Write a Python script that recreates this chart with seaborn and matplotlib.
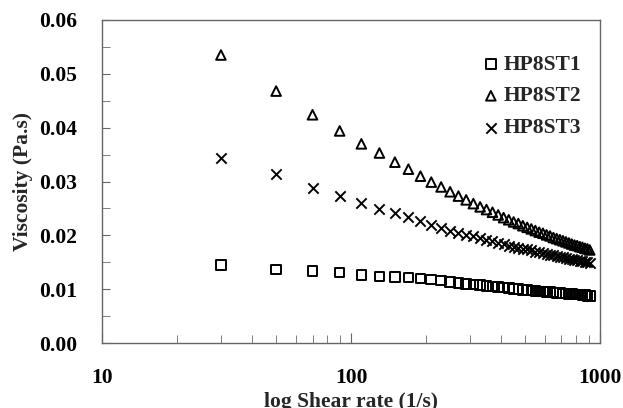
import numpy as np
import pandas as pd
import matplotlib
matplotlib.use("Agg")
import matplotlib.pyplot as plt
from matplotlib.ticker import LogLocator, MultipleLocator, NullFormatter
import seaborn as sns

# shear rate points (1/s)
shear_rate = [30, 50, 70, 90, 110, 130, 150, 170, 190, 210,
              230, 250, 270, 290, 310, 330, 350, 370, 390, 410,
              430, 450, 470, 490, 510, 530, 550, 570, 590, 610,
              630, 650, 670, 690, 710, 730, 750, 770, 790, 810,
              830, 850, 870, 890, 910]

# viscosity values (Pa.s)
hp8st1 = [0.0145, 0.0137, 0.0134, 0.0131, 0.0126, 0.0124, 0.0123, 0.0122, 0.0120, 0.0118,
          0.0116, 0.0114, 0.0112, 0.0110, 0.0109, 0.0108, 0.0106, 0.0105, 0.0104, 0.0103,
          0.0102, 0.0101, 0.0100, 0.0099, 0.0099, 0.0098, 0.0097, 0.0096, 0.0096, 0.0095,
          0.0095, 0.0094, 0.0093, 0.0093, 0.0092, 0.0092, 0.0091, 0.0091, 0.0090, 0.0090,
          0.0090, 0.0089, 0.0089, 0.0088, 0.0088]
hp8st2 = [0.0535, 0.0468, 0.0424, 0.0394, 0.0370, 0.0353, 0.0336, 0.0323, 0.0310, 0.0299,
          0.0290, 0.0281, 0.0273, 0.0266, 0.0259, 0.0253, 0.0248, 0.0243, 0.0238, 0.0233,
          0.0229, 0.0225, 0.0222, 0.0218, 0.0215, 0.0212, 0.0209, 0.0206, 0.0204, 0.0201,
          0.0199, 0.0196, 0.0194, 0.0192, 0.0190, 0.0188, 0.0186, 0.0184, 0.0182, 0.0181,
          0.0179, 0.0178, 0.0176, 0.0175, 0.0173]
hp8st3 = [0.0344, 0.0314, 0.0288, 0.0273, 0.0260, 0.0249, 0.0241, 0.0234, 0.0227, 0.0219,
          0.0214, 0.0209, 0.0205, 0.0201, 0.0198, 0.0195, 0.0192, 0.0189, 0.0186, 0.0184,
          0.0181, 0.0179, 0.0177, 0.0175, 0.0174, 0.0172, 0.0170, 0.0169, 0.0167, 0.0166,
          0.0164, 0.0163, 0.0162, 0.0160, 0.0159, 0.0158, 0.0157, 0.0156, 0.0155, 0.0154,
          0.0153, 0.0152, 0.0151, 0.0150, 0.0149]

series_names = ['HP8ST1', 'HP8ST2', 'HP8ST3']
series_markers = ['s', '^', 'x']

df = pd.DataFrame({'rate': shear_rate, 'HP8ST1': hp8st1, 'HP8ST2': hp8st2, 'HP8ST3': hp8st3})

sns.set_style('white')
plt.rcParams['font.family'] = ['Liberation Serif', 'DejaVu Serif']
plt.rcParams['font.weight'] = 'bold'

fig = plt.figure(figsize=(6.23, 4.08), dpi=100)
ax = fig.add_axes([0.164, 0.159, 0.799, 0.792])

for name, mk in zip(series_names, series_markers):
    if mk == 'x':
        sns.scatterplot(data=df, x='rate', y=name, marker='x', color='black',
                        s=55, linewidth=1.4, label=name, ax=ax)
    else:
        sns.scatterplot(data=df, x='rate', y=name, marker=mk, facecolors='none',
                        edgecolor='black', s=48, linewidth=1.4, label=name, ax=ax)

ax.set_xscale('log')
ax.set_xlim(10, 1000)
ax.set_ylim(0, 0.06)
ax.set_xticks([10, 100, 1000])
ax.set_xticklabels(['10', '100', '1000'])
ax.xaxis.set_minor_locator(LogLocator(base=10, subs=np.arange(2, 10)))
ax.xaxis.set_minor_formatter(NullFormatter())
ax.yaxis.set_major_locator(MultipleLocator(0.01))
ax.yaxis.set_minor_locator(MultipleLocator(0.005))
ax.set_yticklabels(['%.2f' % v for v in ax.get_yticks()])

spine_col = '#666666'
for sp in ax.spines.values():
    sp.set_visible(True)
    sp.set_color(spine_col)
    sp.set_linewidth(1.0)

ax.tick_params(axis='both', which='both', direction='in', colors=spine_col,
               labelcolor='black', labelsize=15.5, left=True, bottom=True,
               right=False, top=False)
ax.tick_params(axis='y', which='both', length=6, pad=18)
ax.tick_params(axis='x', which='major', length=7, pad=18)
ax.tick_params(axis='x', which='minor', length=6)

ax.set_xlabel('log Shear rate (1/s)', fontsize=15.5, fontweight='bold', labelpad=3)
ax.set_ylabel('Viscosity (Pa.s)', fontsize=15.5, fontweight='bold', labelpad=4)

ax.legend(loc='upper right', bbox_to_anchor=(0.98, 0.92), frameon=False,
          prop={'size': 15.5, 'weight': 'bold'}, handletextpad=0.1,
          labelspacing=0.55, handlelength=1.0, borderaxespad=0)

fig.savefig('out.png', dpi=100)
